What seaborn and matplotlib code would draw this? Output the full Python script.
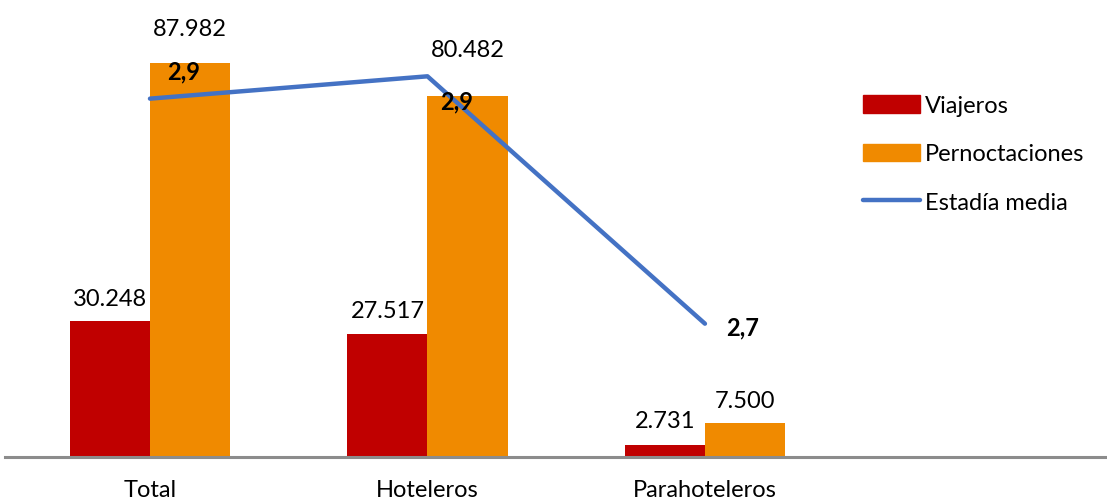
import numpy as np
import pandas as pd
import seaborn as sns
import matplotlib.pyplot as plt
from matplotlib.lines import Line2D

# datos
categorias = ["Total", "Hoteleros", "Parahoteleros"]
viajeros = [30248, 27517, 2731]
pernoctaciones = [87982, 80482, 7500]
estadia = [87982 / 30248, 80482 / 27517, 7500 / 2731]
estadia_txt = ["2,9", "2,9", "2,7"]

sns.set_style("white")
plt.rcParams['font.family'] = ['Lato', 'DejaVu Sans']
plt.rcParams['text.color'] = "black"
plt.rcParams['xtick.color'] = "black"

df = pd.DataFrame({
    "categoria": categorias * 2,
    "serie": ["Viajeros"] * 3 + ["Pernoctaciones"] * 3,
    "valor": viajeros + pernoctaciones,
})

colores = {"Viajeros": "#C00000", "Pernoctaciones": "#F08A00"}

fig = plt.figure(figsize=(11.07, 5.02), dpi=100)
ax = fig.add_axes([5 / 1107, 44 / 502, 1102 / 1107, 448 / 502])

sns.barplot(data=df, x="categoria", y="valor", hue="serie", palette=colores,
            width=0.577, gap=0, saturation=1, linewidth=0, ax=ax, legend=False)

ax.set_xlim(-0.5225, 3.449)
ax.set_ylim(0, 100000)
ax.set_xlabel("")
ax.set_ylabel("")
ax.set_yticks([])
ax.tick_params(axis="x", length=0, pad=16, labelsize=17, labelcolor="black")
for s in ["top", "right", "left"]:
    ax.spines[s].set_visible(False)
ax.spines["bottom"].set_color("#8C8C8C")
ax.spines["bottom"].set_linewidth(2.2)

def fmt(v):
    return f"{v:,}".replace(",", ".")

# etiquetas de barras (desplazamiento extra donde pisa la linea)
pads_v = [9, 9, 10]
pads_p = [17, 26, 9]
cont_v, cont_p = ax.containers[0], ax.containers[1]
for bar, v, p in zip(cont_v, viajeros, pads_v):
    ax.annotate(fmt(v), (bar.get_x() + bar.get_width() / 2, bar.get_height()),
                xytext=(0, p), textcoords="offset points", ha="center", va="bottom", fontsize=17)
for bar, v, p in zip(cont_p, pernoctaciones, pads_p):
    ax.annotate(fmt(v), (bar.get_x() + bar.get_width() / 2, bar.get_height()),
                xytext=(0, p), textcoords="offset points", ha="center", va="bottom", fontsize=17)

# estadia media en eje secundario
ax2 = ax.twinx()
sns.lineplot(x=np.arange(len(categorias)), y=estadia, color="#4472C4", linewidth=3.2,
             ax=ax2, solid_capstyle="round")
ax2.set_ylim(2.650, 2.9734)
ax2.set_yticks([])
ax2.set_ylabel("")
for s in ax2.spines.values():
    s.set_visible(False)

offs = [(24, 20), (21, -18), (27, -2)]
for i, (t, o) in enumerate(zip(estadia_txt, offs)):
    ax2.annotate(t, (i, estadia[i]), xytext=o, textcoords="offset points",
                 ha="center", va="center", fontsize=17, fontweight="bold")

handles = [
    plt.Rectangle((0, 0), 1, 1, color=colores["Viajeros"]),
    plt.Rectangle((0, 0), 1, 1, color=colores["Pernoctaciones"]),
    Line2D([0], [0], color="#4472C4", linewidth=3.2, solid_capstyle="round"),
]
fig.legend(handles, ["Viajeros", "Pernoctaciones", "Estadía media"],
           loc="center left", bbox_to_anchor=(842 / 1107, 1 - 155 / 502),
           frameon=False, fontsize=17, handlelength=2.4, handleheight=0.75,
           handletextpad=0.2, labelspacing=1.15)

fig.savefig("out.png", dpi=100)
